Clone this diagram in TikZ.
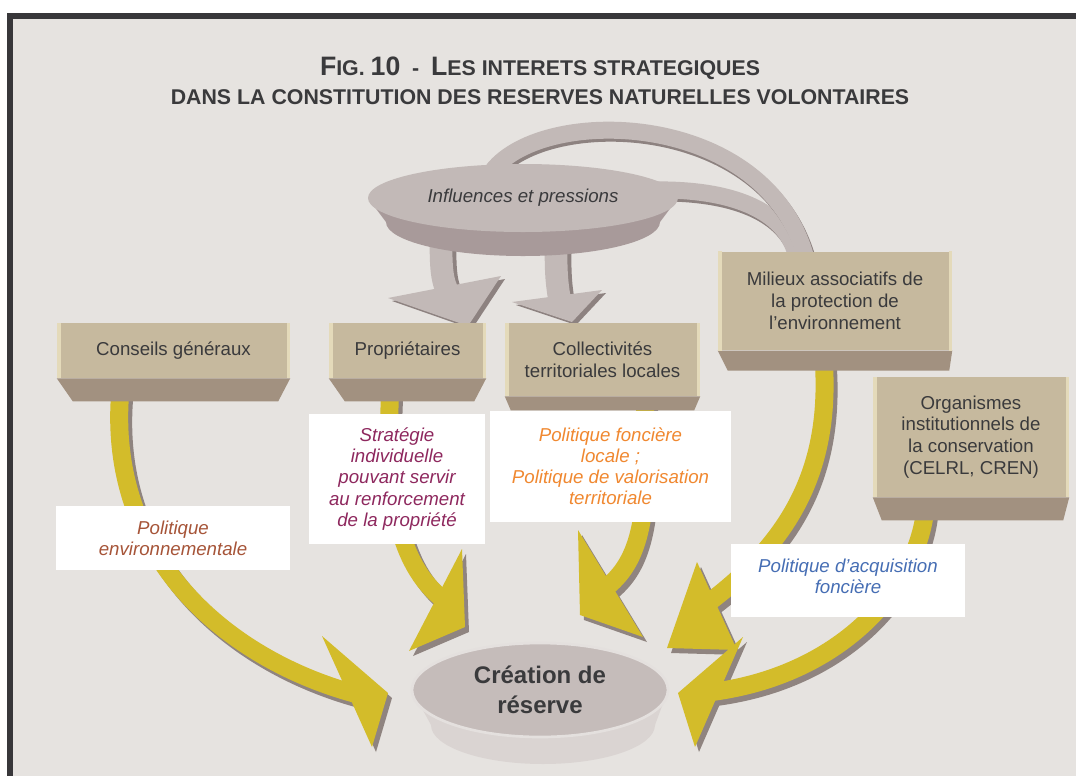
\documentclass[tikz,border=0pt]{standalone}
\usepackage{fontspec}
\setmainfont{Liberation Sans}
\usetikzlibrary{calc,shapes.geometric}

\definecolor{paper}{RGB}{230,227,224}
\definecolor{frame}{RGB}{56,55,58}
\definecolor{tan}{RGB}{198,185,158}
\definecolor{tandark}{RGB}{162,145,128}
\definecolor{tanlite}{RGB}{228,218,186}
\definecolor{ink}{RGB}{58,58,60}
\definecolor{gold}{RGB}{211,188,42}
\definecolor{goldshade}{RGB}{143,132,128}
\definecolor{mauve}{RGB}{194,185,183}
\definecolor{mauvedark}{RGB}{168,154,154}
\definecolor{mauveshade}{RGB}{141,130,128}
\definecolor{dishtop}{RGB}{197,188,186}
\definecolor{dishside}{RGB}{218,212,210}
\definecolor{dishrim}{RGB}{228,224,222}
\definecolor{txtenv}{RGB}{166,84,56}
\definecolor{txtstrat}{RGB}{142,40,94}
\definecolor{txtfonc}{RGB}{240,136,48}
\definecolor{txtacq}{RGB}{70,110,180}

\pgfdeclarelayer{bg}
\pgfsetlayers{bg,main}

\tikzset{panel/.style={fill=tan, text=ink, inner sep=0pt, align=center,
    font=\fontsize{14}{16.3}\selectfont},
  panelside/.style={fill=tandark},
  panellite/.style={fill=tanlite},
  tag/.style={fill=white, inner sep=0pt, align=center,
    font=\itshape\fontsize{14}{15.8}\selectfont},
  yshaft/.style={draw=gold, line width=13.5pt},
  yshade/.style={draw=goldshade, line width=13.5pt},
  gband/.style={draw=mauve, line width=12.75pt},
  gshade/.style={draw=mauveshade, line width=12.75pt}}

% foot of a panel: name, left inset, right inset, depth
\newcommand{\panelfoot}[4]{%
  \fill[panelside] (#1.south west) -- (#1.south east) -- ($(#1.south east)+(-#3,#4)$) -- ($(#1.south west)+(#2,#4)$) -- cycle;
  \fill[panellite] (#1.south west) rectangle ($(#1.north west)+(4,0)$);
  \fill[panellite] (#1.south east) rectangle ($(#1.north east)+(-3,0)$);}

% yellow arrow: shaft, head
\newcommand{\goldarrow}[2]{%
  \begin{scope}[transform canvas={xshift=3pt,yshift=-3.75pt}]
    \draw[yshade] #1;
    \fill[goldshade] #2;
  \end{scope}
  \draw[yshaft] #1;
  \fill[gold] #2;}

% grey arrow: stem, head
\newcommand{\greyarrow}[2]{%
  \begin{scope}[transform canvas={xshift=3pt,yshift=-2.25pt}]
    \draw[gshade, line width=17pt] #1;
    \fill[mauveshade] #2;
  \end{scope}
  \draw[gband, line width=17pt] #1;
  \fill[mauve] #2;}

\begin{document}
\begin{tikzpicture}[x=0.75pt,y=0.75pt,yscale=-1,xscale=1]
\useasboundingbox (0,0) rectangle (1076,776);

%Background and frame
\begin{pgfonlayer}{bg}
\fill[white] (0,0) rectangle (1076,776);
\fill[paper] (13,19) rectangle (1076,776);
\fill[frame] (7,13) rectangle (1076,19);
\fill[frame] (7,13) rectangle (13,776);
\end{pgfonlayer}

% Text Node
\node[anchor=base, text=ink, font=\bfseries\fontsize{16}{19}\selectfont] (title) at (540,75)
  {{\fontsize{20}{23}\selectfont F}IG. {\fontsize{20}{23}\selectfont 10}\ \ -\ \ {\fontsize{20}{23}\selectfont L}ES INTERETS STRATEGIQUES};
% Text Node
\node[anchor=base, text=ink, font=\bfseries\fontsize{16}{19}\selectfont] (subtitle) at (540,104)
  {DANS LA CONSTITUTION DES RESERVES NATURELLES VOLONTAIRES};

%Shape: Panels
\node[panel, minimum width=174.75pt, minimum height=41.25pt] (cons) at (173.5,350.5) {Conseils généraux};
\panelfoot{cons}{16}{12}{23}
\node[panel, minimum width=117.75pt, minimum height=41.25pt] (prop) at (407.5,350.5) {Propriétaires};
\panelfoot{prop}{16}{12}{23}
\node[panel, minimum width=146.25pt, minimum height=54.75pt] (coll) at (602.5,359.5) {Collectivités\\territoriales locales};
\panelfoot{coll}{6}{6}{14}
\node[panel, minimum width=175.5pt, minimum height=74pt] (mil) at (835,301) {Milieux associatifs de\\la protection de\\l’environnement};
\panelfoot{mil}{10}{3}{20}
\node[panel, minimum width=147pt, minimum height=90pt] (org) at (971,437) {Organismes\\institutionnels de\\la conservation\\(CELRL, CREN)};
\panelfoot{org}{9}{6}{23}

%Shape: Influences dish
\fill[mauvedark] (523,222) ellipse [x radius=137, y radius=34];
\fill[mauvedark] (368,198) -- (386,222) -- (660,222) -- (678,198) -- cycle;
\node[ellipse, fill=mauve, minimum width=232.5pt, minimum height=51pt, inner sep=0pt, text=ink,
  font=\itshape\fontsize{14}{16}\selectfont] (infl) at (523,198) {Influences et pressions};

%Shape: Creation dish
\fill[dishside] (543,725) ellipse [x radius=112, y radius=39];
\fill[dishside] (412,690) -- (431,725) -- (655,725) -- (668,690) -- cycle;
\node[ellipse, fill=dishtop, draw=dishrim, line width=2pt, minimum width=192pt, minimum height=70.5pt,
  inner sep=0pt, text=ink, align=center, font=\bfseries\fontsize{18}{22.5}\selectfont] (crea) at (540,690) {Création de\\réserve};

% Text Node
\node[tag, text=txtenv, minimum width=175.5pt, minimum height=48pt] (env) at (173,538) {Politique\\environnementale};
\node[tag, text=txtstrat, minimum width=132pt, minimum height=97.5pt] (strat) at (397,479) {Stratégie\\individuelle\\pouvant servir\\au renforcement\\de la propriété};
\node[tag, text=txtfonc, minimum width=180.75pt, minimum height=83.25pt] (fonc) at (610.5,466.5) {Politique foncière\\locale ;\\Politique de valorisation\\territoriale};
\node[tag, minimum width=175.5pt, minimum height=54.75pt] (acq) at (848,580.5) {};
\node[tag, fill=none, text=txtacq] (acqtext) at (848,576) {Politique d’acquisition\\foncière};

\begin{pgfonlayer}{bg}
%Curve Lines: grey bands to the associations
\draw[gshade, transform canvas={xshift=1.5pt,yshift=-2.25pt}] ($(infl.center)+(127,-8)$) .. controls (740,188) and (788,215) .. ($(mil.north west)+(79,6)$);
\draw[gband] ($(infl.center)+(127,-8)$) .. controls (740,188) and (788,215) .. ($(mil.north west)+(79,6)$);
\draw[gshade, transform canvas={xshift=1.5pt,yshift=-2.25pt}] ($(infl.center)+(-30,-28)$) .. controls (545,105) and (765,110) .. ($(mil.north west)+(88,6)$);
\draw[gband] ($(infl.center)+(-30,-28)$) .. controls (545,105) and (765,110) .. ($(mil.north west)+(88,6)$);

%Curve Lines: grey arrows
\greyarrow{($(infl.south)+(-82,13)$) .. controls (441,275) and (443,285) .. (452,300)}{(388,298) -- (501,276) -- (468,326) -- cycle}
\greyarrow{($(infl.south)+(33,18)$) .. controls (556,275) and (557,285) .. (560,302)}{(512,302) -- (602,290) -- (572,322) -- cycle}

%Curve Lines: yellow arrows
\goldarrow{($(cons.south)+(-53.5,17)$) .. controls (108,560) and (230,660) .. (356,694)}{(322,636) -- (388,693) -- (372,747) -- cycle}
\goldarrow{($(prop.south)+(-17.5,17)$) .. controls (385,500) and (400,570) .. (448,603)}{(462,549) -- (465,627) -- (409,651) -- cycle}
\goldarrow{($(coll.south)+(42.5,9)$) .. controls (650,520) and (640,565) .. (600,592)}{(578,530) -- (643,637) -- (580,615) -- cycle}
\goldarrow{($(mil.south)+(-11,14)$) .. controls (830,470) and (790,540) .. (712,600)}{(697,562) -- (737,650) -- (667,648) -- cycle}
\goldarrow{($(org.south)+(-46,15)$) .. controls (915,590) and (840,675) .. (712,692)}{(743,637) -- (695,747) -- (678,693) -- cycle}
\end{pgfonlayer}

\end{tikzpicture}
\end{document}
